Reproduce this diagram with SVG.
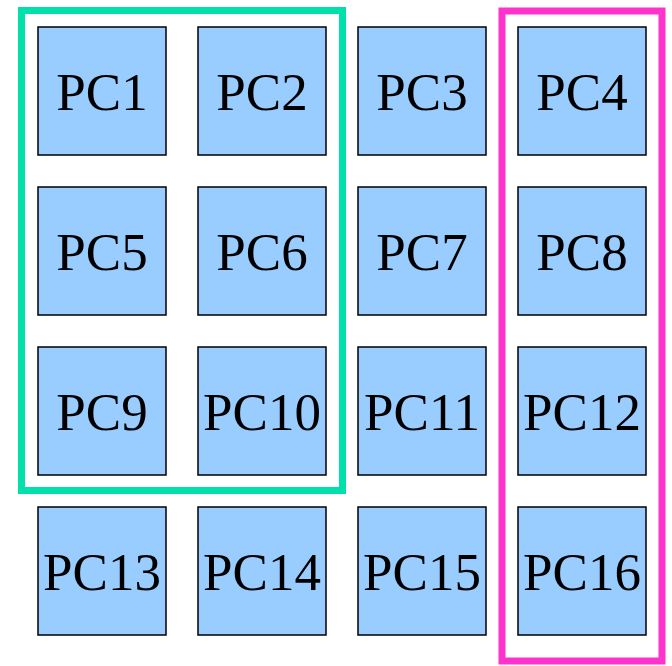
<svg xmlns="http://www.w3.org/2000/svg" width="672" height="666" viewBox="0 0 672 666">
  <style>
    .node rect { fill: #99ccff; stroke: #000000; stroke-width: 1.5; }
    .node text { font-family: "Liberation Serif", "Times New Roman", serif; font-size: 53px; fill: #000000; text-anchor: middle; }
    .frame { fill: none; stroke-width: 7; }
  </style>
  <rect width="672" height="666" fill="#ffffff"/>
  <g id="groups">
    <rect class="frame" x="21.5" y="10.5" width="321" height="480" stroke="#00e0aa"/>
    <rect class="frame" x="502" y="11" width="160" height="650" stroke="#ff33cc"/>
  </g>
  <g id="connectors"></g>
  <g id="pc1" class="node"><rect x="38" y="27" width="128" height="128"/><text x="102" y="110">PC1</text></g>
  <g id="pc2" class="node"><rect x="198" y="27" width="128" height="128"/><text x="262" y="110">PC2</text></g>
  <g id="pc3" class="node"><rect x="358" y="27" width="128" height="128"/><text x="422" y="110">PC3</text></g>
  <g id="pc4" class="node"><rect x="518" y="27" width="128" height="128"/><text x="582" y="110">PC4</text></g>
  <g id="pc5" class="node"><rect x="38" y="187" width="128" height="128"/><text x="102" y="270">PC5</text></g>
  <g id="pc6" class="node"><rect x="198" y="187" width="128" height="128"/><text x="262" y="270">PC6</text></g>
  <g id="pc7" class="node"><rect x="358" y="187" width="128" height="128"/><text x="422" y="270">PC7</text></g>
  <g id="pc8" class="node"><rect x="518" y="187" width="128" height="128"/><text x="582" y="270">PC8</text></g>
  <g id="pc9" class="node"><rect x="38" y="347" width="128" height="128"/><text x="102" y="430">PC9</text></g>
  <g id="pc10" class="node"><rect x="198" y="347" width="128" height="128"/><text x="262" y="430">PC10</text></g>
  <g id="pc11" class="node"><rect x="358" y="347" width="128" height="128"/><text x="422" y="430">PC11</text></g>
  <g id="pc12" class="node"><rect x="518" y="347" width="128" height="128"/><text x="582" y="430">PC12</text></g>
  <g id="pc13" class="node"><rect x="38" y="507" width="128" height="128"/><text x="102" y="590">PC13</text></g>
  <g id="pc14" class="node"><rect x="198" y="507" width="128" height="128"/><text x="262" y="590">PC14</text></g>
  <g id="pc15" class="node"><rect x="358" y="507" width="128" height="128"/><text x="422" y="590">PC15</text></g>
  <g id="pc16" class="node"><rect x="518" y="507" width="128" height="128"/><text x="582" y="590">PC16</text></g>
</svg>
